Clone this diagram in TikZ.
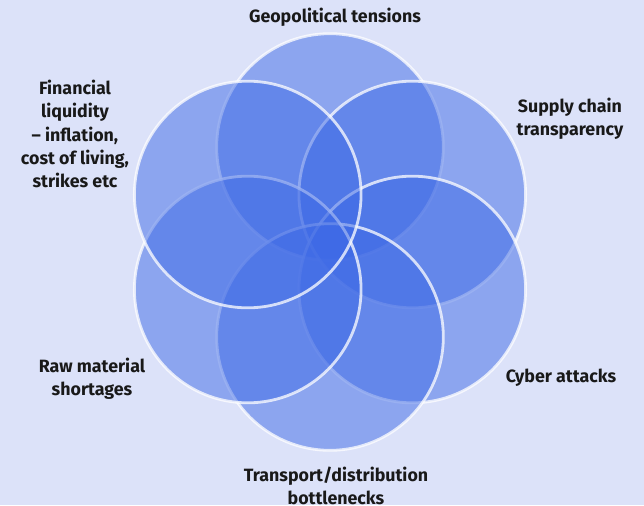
\documentclass[tikz,border=0pt]{standalone}
\usepackage{fontspec}
\setmainfont{Fira Sans}
\definecolor{backdrop}{RGB}{220,226,249}
\definecolor{petalblue}{RGB}{62,106,230}
\tikzset{
    petal/.style={fill=petalblue, fill opacity=0.5, draw=white, draw opacity=0.75, line width=2.4pt},
    riskname/.style={align=center, font=\bfseries\fontsize{15.2}{20}\selectfont, text=black!90, inner sep=1pt}
}
\begin{document}
\begin{tikzpicture}[scale=1]

    % Background and page size
    \fill[backdrop] (-9.9, -7.89) rectangle (9.42, 7.26);
    \useasboundingbox (-9.9, -7.89) rectangle (9.42, 7.26);

    % Define center of the flower
    \coordinate (O) at (0, 0);

    % Define the centres of the six circles
    \coordinate (T) at (90:2.85);
    \coordinate (UR) at (30:2.85);
    \coordinate (LR) at (-30:2.85);
    \coordinate (B) at (-90:2.85);
    \coordinate (LL) at (210:2.85);
    \coordinate (UL) at (150:2.85);

    % Draw the six overlapping circles
    \draw[petal] (T) circle (3.4);
    \draw[petal] (UR) circle (3.4);
    \draw[petal] (LR) circle (3.4);
    \draw[petal] (B) circle (3.4);
    \draw[petal] (LL) circle (3.4);
    \draw[petal] (UL) circle (3.4);

    % Add labels
    \node[riskname] (geo) at (0.15, 6.75) {Geopolitical tensions};
    \node[riskname] (supply) at (7.2, 3.69) {Supply chain\\transparency};
    \node[riskname] (cyber) at (6.93, -4.08) {Cyber attacks};
    \node[riskname] (transport) at (0.18, -7.32) {Transport/distribution\\bottlenecks};
    \node[riskname] (raw) at (-7.14, -4.11) {Raw material\\shortages};
    \node[riskname] (finance) at (-7.65, 3.24) {Financial\\liquidity\\– inflation,\\cost of living,\\strikes etc};

\end{tikzpicture}
\end{document}
